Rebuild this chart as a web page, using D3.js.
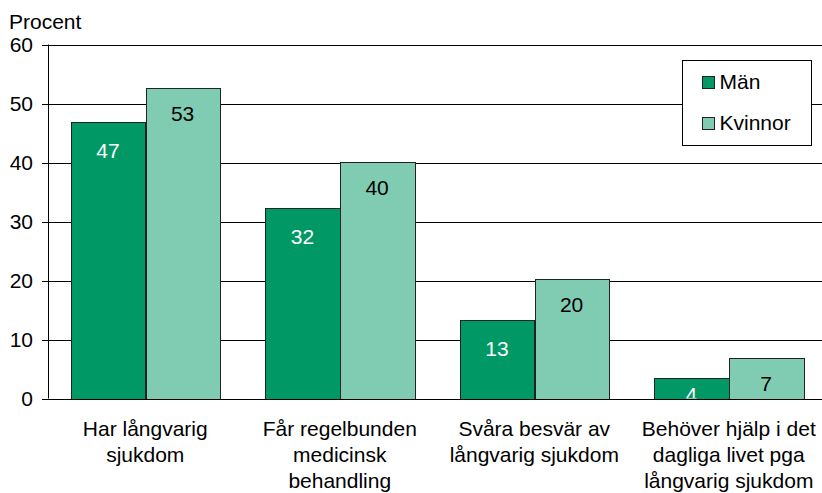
<!DOCTYPE html>
<html>
<head>
<meta charset="utf-8">
<script src="https://cdn.jsdelivr.net/npm/d3@7"></script>
<style>
  body { margin: 0; background: #fff; }
  svg { display: block; font-family: "Liberation Sans", Arial, sans-serif; }
  .grid line { stroke: #000; stroke-width: 1; shape-rendering: crispEdges; }
  .bar { stroke: #222; stroke-width: 1; shape-rendering: crispEdges; }
</style>
</head>
<body>
<svg id="chart" width="822" height="493"></svg>
<script>
// chart data
const categories = [
  ['Har långvarig', 'sjukdom'],
  ['Får regelbunden', 'medicinsk', 'behandling'],
  ['Svåra besvär av', 'långvarig sjukdom'],
  ['Behöver hjälp i det', 'dagliga livet pga', 'långvarig sjukdom']
]
const series = ['Män', 'Kvinnor']
const manValues = [46.9, 32.3, 13.3, 3.5]
const kvinnorValues = [52.6, 40.1, 20.2, 6.8]
const manLabels = ['47', '32', '13', '4']
const kvinnorLabels = ['53', '40', '20', '7']
const yTicks = [0, 10, 20, 30, 40, 50, 60]

const colors = { 'Män': '#009966', 'Kvinnor': '#80ccb2' }
const labelColors = { 'Män': '#fff', 'Kvinnor': '#000' }

const fontSize = 21
const margin = {top: 44.5, right: -4, bottom: 94.5, left: 48}
const width = 822
const height = 493

const svg = d3.select('#chart')

const catKeys = categories.map((c, i) => i)
const x0 = d3.scaleBand()
  .domain(catKeys)
  .range([margin.left, width - margin.right])
  .paddingInner(0.232)
  .paddingOuter(0.116)
const x1 = d3.scaleBand()
  .domain(series)
  .range([0, x0.bandwidth()])
const y = d3.scaleLinear()
  .domain([0, 60])
  .range([height - margin.bottom, margin.top])

// gridlines
svg.append('g')
  .attr('class', 'grid')
  .selectAll('line')
  .data(yTicks.filter(d => d > 0))
  .join('line')
  .attr('x1', margin.left)
  .attr('x2', width)
  .attr('y1', d => Math.round(y(d)) + 0.5)
  .attr('y2', d => Math.round(y(d)) + 0.5)

// y axis
const yAxis = d3.axisLeft(y).tickValues(yTicks).tickSize(6).tickPadding(9)
const yAxisEl = svg.append('g')
  .attr('transform', 'translate(' + margin.left + ',0)')
  .call(yAxis)
yAxisEl.select('.domain').remove()
yAxisEl.selectAll('line').attr('stroke', '#000').attr('shape-rendering', 'crispEdges')
yAxisEl.selectAll('text')
  .attr('font-size', fontSize)
  .attr('font-family', '"Liberation Sans", Arial, sans-serif')
  .attr('fill', '#000')

svg.append('text')
  .attr('x', 9)
  .attr('y', 29)
  .attr('font-size', fontSize)
  .text('Procent')

// bars
const rows = catKeys.map(i => ({
  cat: i,
  values: [
    {key: 'Män', value: manValues[i], label: manLabels[i]},
    {key: 'Kvinnor', value: kvinnorValues[i], label: kvinnorLabels[i]}
  ]
}))

svg.append('clipPath')
  .attr('id', 'plotclip')
  .append('rect')
  .attr('x', margin.left)
  .attr('y', 0)
  .attr('width', width)
  .attr('height', y(0))

const groups = svg.append('g')
  .selectAll('g')
  .data(rows)
  .join('g')
  .attr('transform', d => 'translate(' + x0(d.cat) + ',0)')

groups.selectAll('rect')
  .data(d => d.values)
  .join('rect')
  .attr('class', 'bar')
  .attr('x', d => Math.round(x1(d.key)) + 0.5)
  .attr('y', d => Math.round(y(d.value)) + 0.5)
  .attr('width', x1.bandwidth())
  .attr('height', d => y(0) - Math.round(y(d.value)))
  .attr('fill', d => colors[d.key])

// value labels, clipped at the x axis
const labelData = rows.flatMap(r => r.values.map(v => Object.assign({cat: r.cat}, v)))
svg.append('g')
  .attr('clip-path', 'url(#plotclip)')
  .selectAll('text')
  .data(labelData)
  .join('text')
  .attr('x', d => x0(d.cat) + x1(d.key) + x1.bandwidth() / 2)
  .attr('y', d => y(d.value) + Math.min(d.key === 'Män' ? 36 : 33, y(0) - y(d.value) + 3))
  .attr('text-anchor', 'middle')
  .attr('font-size', fontSize)
  .attr('fill', d => labelColors[d.key])
  .text(d => d.label)

// axis lines
svg.append('line')
  .attr('x1', margin.left + 0.5).attr('x2', margin.left + 0.5)
  .attr('y1', y(60)).attr('y2', y(0))
  .attr('stroke', '#000')
svg.append('line')
  .attr('x1', margin.left - 6).attr('x2', width)
  .attr('y1', Math.round(y(0)) + 0.5).attr('y2', Math.round(y(0)) + 0.5)
  .attr('stroke', '#000')

// category labels
const catLabels = svg.append('g')
  .selectAll('text')
  .data(rows)
  .join('text')
  .attr('text-anchor', 'middle')
  .attr('font-size', fontSize)
  .attr('fill', '#000')
  .attr('transform', d => 'translate(' + (x0(d.cat) + x0.bandwidth() / 2) + ',436)')
catLabels.selectAll('tspan')
  .data(d => categories[d.cat])
  .join('tspan')
  .attr('x', 0)
  .attr('y', (d, i) => i * 26)
  .text(d => d)

// legend
const legend = svg.append('g').attr('transform', 'translate(682.5,60.5)')
legend.append('rect')
  .attr('width', 129)
  .attr('height', 85)
  .attr('fill', '#fff')
  .attr('stroke', '#000')
const legendItems = legend.selectAll('g.item')
  .data(series)
  .join('g')
  .attr('class', 'item')
  .attr('transform', (d, i) => 'translate(20,' + (16 + i * 41) + ')')
legendItems.append('rect')
  .attr('width', 12)
  .attr('height', 12)
  .attr('fill', d => colors[d])
  .attr('stroke', '#222')
legendItems.append('text')
  .attr('x', 17)
  .attr('y', 12)
  .attr('font-size', fontSize)
  .text(d => d)
</script>
</body>
</html>
